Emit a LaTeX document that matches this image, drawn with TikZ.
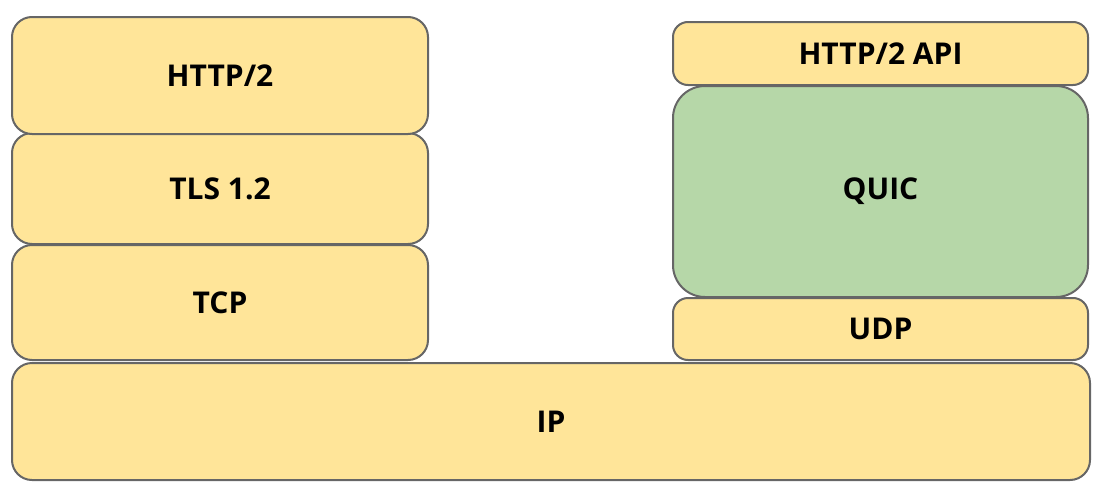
\documentclass[tikz,border=0pt]{standalone}
\usepackage{fontspec}
\setmainfont{Open Sans}
\definecolor{layerfill}{HTML}{FFE599}
\definecolor{quicfill}{HTML}{B6D7A8}
\definecolor{layerline}{HTML}{666666}
\tikzset{
    layer/.style={draw=layerline, line width=2pt, fill=layerfill, rounded corners=20pt,
        inner sep=0pt, font=\fontsize{30}{36}\selectfont\bfseries},
}
\begin{document}
\begin{tikzpicture}[x=1pt, y=-1pt]

    \useasboundingbox (0,0) rectangle (1104,498);

    %% Common base
    \node[layer, minimum width=1078pt, minimum height=117pt] (ip) at (551,421.5) {IP};

    % TCP stack
    \node[layer, minimum width=416pt, minimum height=115pt] (tcp) at (220,302.5) {TCP};
    \node[layer, minimum width=416pt, minimum height=111pt] (tls) at (220,188.5) {TLS 1.2};
    \node[layer, minimum width=416pt, minimum height=117pt] (http) at (220,75.5) {HTTP/2};

    % QUIC stack
    \node[layer, rounded corners=15pt, minimum width=415pt, minimum height=62pt] (udp) at (880.5,329) {UDP};
    \node[layer, fill=quicfill, rounded corners=32pt, minimum width=415pt, minimum height=211pt] (quic) at (880.5,191.5) {QUIC};
    \node[layer, rounded corners=15pt, minimum width=415pt, minimum height=63pt] (api) at (880.5,53.5) {HTTP/2 API};

\end{tikzpicture}
\end{document}
